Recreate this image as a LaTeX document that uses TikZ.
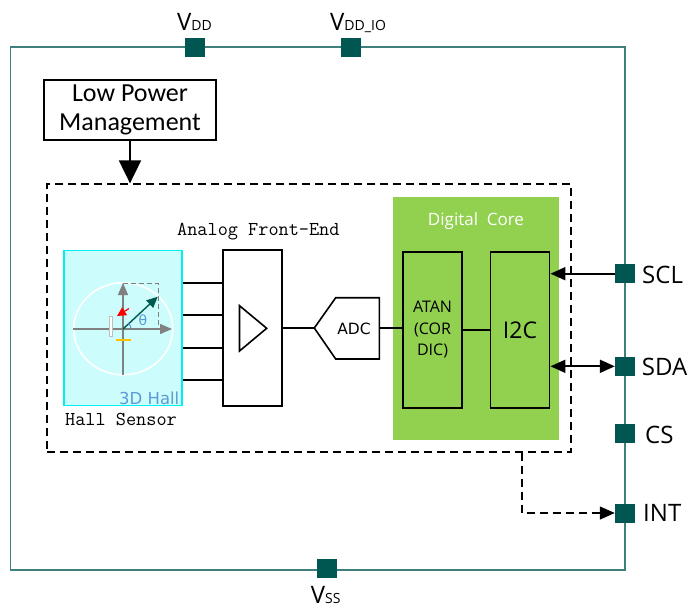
\documentclass[tikz,border=0pt]{standalone}
\usepackage{fontspec}
\newfontfamily\osans{Open Sans}
\newfontfamily\carl{Carlito}
\newfontfamily\dvs{DejaVu Sans}
\usetikzlibrary{arrows.meta,calc}
\definecolor{framec}{RGB}{62,128,124}
\definecolor{padc}{RGB}{0,86,80}
\definecolor{hallfill}{RGB}{204,252,252}
\definecolor{hallline}{RGB}{0,240,240}
\definecolor{digi}{RGB}{146,208,80}
\definecolor{hallblue}{RGB}{91,155,213}
\definecolor{axisgray}{RGB}{128,128,128}
\definecolor{vecc}{RGB}{0,90,80}
\definecolor{yel}{RGB}{255,192,0}
\tikzset{
 pad/.style={fill=padc, minimum width=20pt, minimum height=19pt, inner sep=0pt},
 blk/.style={draw=black, line width=1.9pt, inner sep=0pt},
 conn/.style={draw=black, line width=2pt},
 tipend/.style={-{Triangle[length=15pt,width=13pt]}},
 tipbig/.style={-{Triangle[length=23pt,width=22pt]}},
 tipboth/.style={{Triangle[length=15pt,width=13pt]}-{Triangle[length=15pt,width=13pt]}},
 pinlbl/.style={font=\osans\fontsize{24}{24}\selectfont, anchor=base west, inner sep=0pt},
 monolbl/.style={font=\ttfamily\fontsize{19.7}{20}\selectfont, anchor=base west, inner sep=0pt},
 dashln/.style={line width=1.3pt, dash pattern=on 8pt off 5pt},
 axis/.style={axisgray, line width=1.3pt, -{Triangle[length=12pt,width=10pt]}},
}
\begin{document}
\begin{tikzpicture}[x=1pt,y=-1pt]
\useasboundingbox (0,0) rectangle (695,608);
\fill[white] (0,0) rectangle (695,608);

% chip frame
\node[draw=framec, line width=1.5pt, minimum width=614.3pt, minimum height=523pt, inner sep=0pt] (chip) at (317.85,308.5) {};

% pads
\node[pad] (pvdd) at (195,47.5) {};
\node[pad] (pvddio) at (351,47.5) {};
\node[pad] (pvss) at (326.7,568.5) {};
\node[pad] (pscl) at (625,273.7) {};
\node[pad] (psda) at (625,366.3) {};
\node[pad] (pcs) at (625,433) {};
\node[pad] (pint) at (625,513) {};

% pad labels
\node[pinlbl] (lvdd) at (177,30) {V{\fontsize{14}{14}\selectfont DD}};
\node[pinlbl] (lvddio) at (330,30) {V{\fontsize{14}{14}\selectfont DD\_IO}};
\node[pinlbl] (lvss) at (310.7,603) {V{\fontsize{14}{14}\selectfont SS}};
\node[pinlbl] (lscl) at (642,283) {SCL};
\node[pinlbl] (lsda) at (641.7,375) {SDA};
\node[pinlbl] (lcs) at (645,443) {CS};
\node[pinlbl] (lint) at (643,521) {INT};

% low power management
\node[blk, minimum width=172pt, minimum height=60pt, align=center, font=\carl\fontsize{26}{29}\selectfont] (lpm) at (130,110) {Low Power\\Management};

% dashed sensor box
\node[draw, dashln, minimum width=524pt, minimum height=268pt, inner sep=0pt] (core) at (309,318) {};
\draw[conn, tipbig] (lpm.south) -- (core.north -| lpm.south);

% hall sensor
\node[draw=hallline, fill=hallfill, line width=1.3pt, minimum width=118pt, minimum height=155pt, inner sep=0pt] (hall) at (123,328.2) {};
\draw[white, line width=1.6pt] (123.2,328.8) ellipse [x radius=49.5, y radius=46];
\draw[axisgray, line width=1.2pt, dash pattern=on 5pt off 3pt] (123,283.3) -- (158.3,283.3) -- (158.3,329);
\draw[axis] (73,329) -- (172,329);
\draw[axis] (123,375) -- (123,283);
\draw[vecc, line width=1.4pt, -{Triangle[length=11pt,width=10pt]}] (123,329) -- (157.7,296.7);
\draw[hallblue, line width=1pt] (131,329) arc[start angle=0, end angle=-45, radius=8];
\node[text=hallblue, font=\dvs\fontsize{14}{14}\selectfont, inner sep=0pt] (theta) at (143,320) {θ};
\draw[red, line width=1.2pt, -{Triangle[length=9pt,width=9pt]}] (129,308.5) -- (117,316);
\draw[gray!50, fill=white, line width=0.6pt] (109.5,316.7) rectangle (112,336.7);
\draw[yel, line width=2.5pt] (116,340) -- (131,340);
\node[font=\dvs\fontsize{16.5}{17}\selectfont, text=hallblue, anchor=base east, inner sep=0pt] (l3d) at (179.5,404.5) {3D Hall};
\node[monolbl] (lhall) at (65,425) {Hall Sensor};

% analog front end
\node[blk, minimum width=59pt, minimum height=156pt] (afe) at (252.5,328.3) {};
\draw[line width=1.6pt] (239.5,305.7) -- (266.7,328.3) -- (239.5,351) -- cycle;
\node[monolbl] (lafe) at (177,235) {Analog Front-End};
\foreach \yy in {282.5,315,347.5,379.5}
  \draw[conn] (hall.east |- 0,\yy) -- (afe.west |- 0,\yy);

% ADC
\coordinate (adcL) at (314.3,328);
\coordinate (adcR) at (379.3,328);
\draw[line width=1.6pt] (adcL) -- (335.7,297.7) -- (379.3,297.7) -- (379.3,359) -- (335.7,359) -- cycle;
\node[font=\dvs\fontsize{15.5}{16}\selectfont, inner sep=0pt] (adc) at (354,328.5) {ADC};
\draw[conn] (afe.east |- adcL) -- (adcL);

% digital core
\node[fill=digi, minimum width=166pt, minimum height=243pt, inner sep=0pt] (dig) at (475.5,318) {};
\node[font=\osans\fontsize{17}{17}\selectfont, text=white, inner sep=0pt] (ldig) at (476,221) {Digital\ \ Core};
\node[blk, minimum width=59pt, minimum height=156pt, align=center, font=\osans\fontsize{16}{21.5}\selectfont] (atan) at (432.5,330) {ATAN\\(COR\\DIC)};
\node[blk, minimum width=59pt, minimum height=156pt, font=\osans\fontsize{23}{23}\selectfont] (i2c) at (520,330) {I2C};
\draw[conn] (adcR) -- (atan.west |- adcR);
\draw[conn] (atan.east) -- (i2c.west);

% bus connections
\draw[conn, tipend] (pscl.west) -- (i2c.east |- pscl.west);
\draw[conn, tipboth] (i2c.east |- psda.west) -- (psda.west);
\draw[dashln, tipend] (core.south -| 522,0) -- (pint.west -| 522,0) -- (pint.west);
\end{tikzpicture}
\end{document}
